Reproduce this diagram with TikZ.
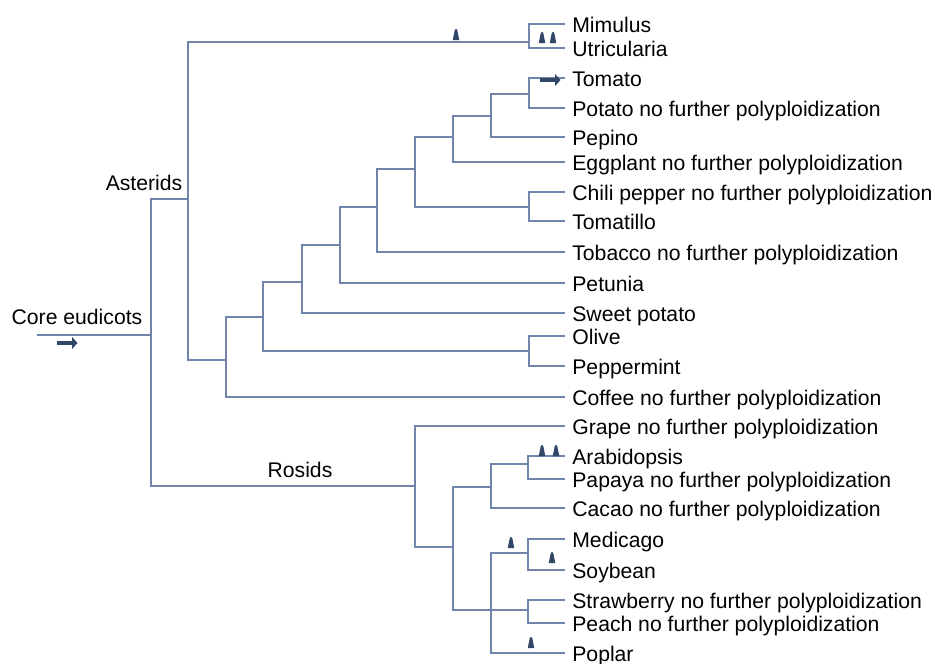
\documentclass[tikz,border=0pt]{standalone}
\usepackage{fontspec}
\setmainfont{Liberation Sans}
\usetikzlibrary{arrows.meta}
\definecolor{branch}{RGB}{112,132,172}
\definecolor{markblue}{RGB}{50,70,104}
\tikzset{
    leaf/.style = {anchor = west, inner xsep = 0.14cm, inner ysep = 0pt, text height = 10pt, text depth = 0.4pt},
    wgd/.pic = {\fill [markblue] (-0.065cm,0) -- (-0.025cm,0.2cm) arc [start angle = 180, end angle = 0, radius = 0.025cm] -- (0.065cm,0) -- cycle;},
    wgt/.pic = {\draw [markblue, line width = 2.2pt, -{Triangle[length = 3pt, width = 6.5pt]}] (-0.21cm,0) -- (0.21cm,0);},
}
\begin{document}
\begin{tikzpicture}[x = 0.02cm, y = -0.02cm, font = \fontsize{12.05}{14}\selectfont]
        \useasboundingbox (0,0) rectangle (935,663);
        % inner nodes of the tree
        \coordinate (start) at (37,335);
        \coordinate (core) at (151,335);
        \coordinate (ast) at (188,199);
        \coordinate (mu) at (529,42);
        \coordinate (a1) at (226,360);
        \coordinate (a2) at (263,317);
        \coordinate (a3) at (302,282);
        \coordinate (a4) at (340,245);
        \coordinate (a5) at (377,207);
        \coordinate (a6) at (415,169);
        \coordinate (a7) at (453,137);
        \coordinate (a8) at (491,116);
        \coordinate (to) at (529,94);
        \coordinate (ch) at (529,207);
        \coordinate (ol) at (529,351);
        \coordinate (r1) at (415,486);
        \coordinate (r2) at (453,547);
        \coordinate (r3) at (491,487);
        \coordinate (ar) at (528,464);
        \coordinate (r4) at (491,610);
        \coordinate (le) at (528,553);
        \coordinate (ro) at (528,610);
        % leaves
        \node [leaf] (mimulus) at (565,24) {Mimulus};
        \node [leaf] (utricularia) at (565,48) {Utricularia};
        \node [leaf] (tomato) at (565,78) {Tomato};
        \node [leaf] (potato) at (565,108) {Potato no further polyploidization};
        \node [leaf] (pepino) at (565,137) {Pepino};
        \node [leaf] (eggplant) at (565,162) {Eggplant no further polyploidization};
        \node [leaf] (chili) at (565,192) {Chili pepper no further polyploidization};
        \node [leaf] (tomatillo) at (565,221) {Tomatillo};
        \node [leaf] (tobacco) at (565,252) {Tobacco no further polyploidization};
        \node [leaf] (petunia) at (565,283) {Petunia};
        \node [leaf] (sweetpotato) at (565,313) {Sweet potato};
        \node [leaf] (olive) at (565,336) {Olive};
        \node [leaf] (peppermint) at (565,366) {Peppermint};
        \node [leaf] (coffee) at (565,397) {Coffee no further polyploidization};
        \node [leaf] (grape) at (565,426) {Grape no further polyploidization};
        \node [leaf] (arabidopsis) at (565,456) {Arabidopsis};
        \node [leaf] (papaya) at (565,479) {Papaya no further polyploidization};
        \node [leaf] (cacao) at (565,508) {Cacao no further polyploidization};
        \node [leaf] (medicago) at (565,539) {Medicago};
        \node [leaf] (soybean) at (565,570) {Soybean};
        \node [leaf] (strawberry) at (565,600) {Strawberry no further polyploidization};
        \node [leaf] (peach) at (565,623) {Peach no further polyploidization};
        \node [leaf] (poplar) at (565,653) {Poplar};
        % clade names
        \node [] (coreeudicots) at (77,317) {Core eudicots};
        \node [] (asterids) at (144,183) {Asterids};
        \node [] (rosids) at (300,470) {Rosids};
        % branches
        \begin{scope}[color = branch, line width = 1.1pt]
            \draw (start) -- (core);
            \draw (core) |- (ast);
            \draw (core) |- (r1);
            \draw (ast) |- (mu);
            \draw (ast) |- (a1);
            \draw (mu) |- (mimulus);
            \draw (mu) |- (utricularia);
            \draw (a1) |- (a2);
            \draw (a1) |- (coffee);
            \draw (a2) |- (a3);
            \draw (a2) |- (ol);
            \draw (a3) |- (a4);
            \draw (a3) |- (sweetpotato);
            \draw (a4) |- (a5);
            \draw (a4) |- (petunia);
            \draw (a5) |- (a6);
            \draw (a5) |- (tobacco);
            \draw (a6) |- (a7);
            \draw (a6) |- (ch);
            \draw (a7) |- (a8);
            \draw (a7) |- (eggplant);
            \draw (a8) |- (to);
            \draw (a8) |- (pepino);
            \draw (to) |- (tomato);
            \draw (to) |- (potato);
            \draw (ch) |- (chili);
            \draw (ch) |- (tomatillo);
            \draw (ol) |- (olive);
            \draw (ol) |- (peppermint);
            \draw (r1) |- (grape);
            \draw (r1) |- (r2);
            \draw (r2) |- (r3);
            \draw (r2) |- (r4);
            \draw (r3) |- (ar);
            \draw (r3) |- (cacao);
            \draw (ar) |- (arabidopsis);
            \draw (ar) |- (papaya);
            \draw (r4) |- (le);
            \draw (r4) |- (ro);
            \draw (r4) |- (poplar);
            \draw (le) |- (medicago);
            \draw (le) |- (soybean);
            \draw (ro) |- (strawberry);
            \draw (ro) |- (peach);
        \end{scope}
        % polyploidy marks
        \pic at (67,343) {wgt};
        \pic at (550,80) {wgt};
        \pic at (456,40) {wgd};
        \pic at (542,43) {wgd};
        \pic at (553,43) {wgd};
        \pic at (542,456) {wgd};
        \pic at (556,456) {wgd};
        \pic at (511,548) {wgd};
        \pic at (552,563) {wgd};
        \pic at (531,648) {wgd};
    \end{tikzpicture}
\end{document}
